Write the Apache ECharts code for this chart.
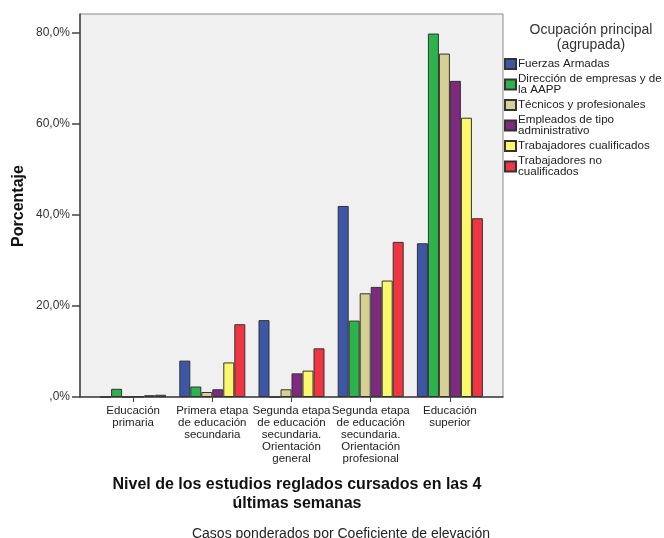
<!DOCTYPE html>
<html><head><meta charset="utf-8">
<script src="https://cdn.jsdelivr.net/npm/echarts@6/dist/echarts.min.js"></script>
<style>html,body{margin:0;padding:0;background:#fff}#c{width:664px;height:538px}</style>
</head><body><div id="c"></div>
<script>
const categories = ['Educación\nprimaria','Primera etapa\nde educación\nsecundaria','Segunda etapa\nde educación\nsecundaria.\nOrientación\ngeneral','Segunda etapa\nde educación\nsecundaria.\nOrientación\nprofesional','Educación\nsuperior'];
const seriesNames = ['Fuerzas Armadas','Dirección de empresas y de\nla AAPP','Técnicos y profesionales','Empleados de tipo\nadministrativo','Trabajadores cualificados','Trabajadores no\ncualificados'];
const fuerzasArmadas = [0, 8.0, 16.9, 42.0, 33.8];
const direccion = [1.8, 2.3, 0, 16.8, 79.9];
const tecnicos = [0, 1.1, 1.7, 22.8, 75.5];
const empleados = [0.1, 1.7, 5.2, 24.2, 69.5];
const cualificados = [0.4, 7.6, 5.8, 25.6, 61.4];
const noCualificados = [0.5, 16.0, 10.7, 34.1, 39.3];
const yTicks = [0, 20, 40, 60, 80];
const colors = ['#3d56a6','#2db34b','#d6d193','#7d2a7f','#fbf86c','#ee3541'];
const values = [fuerzasArmadas, direccion, tecnicos, empleados, cualificados, noCualificados];
const FONT = '"Liberation Sans", Arial, sans-serif';
const YMAX = 84.2;

const chart = echarts.init(document.getElementById('c'), null, {renderer:'canvas'});
chart.setOption({
  backgroundColor:'#ffffff',
  animation:false,
  textStyle:{fontFamily:FONT},
  title:[
    {text:'Ocupación principal\n(agrupada)', left:586, top:18, textAlign:'center',
     textStyle:{fontFamily:FONT, fontSize:14, fontWeight:'normal', color:'#333', lineHeight:15}},
    {text:'Nivel de los estudios reglados cursados en las 4\núltimas semanas', left:292, top:470, textAlign:'center',
     textStyle:{fontFamily:FONT, fontSize:16, fontWeight:'bold', color:'#111', lineHeight:19}},
    {text:'Casos ponderados por Coeficiente de elevación', left:336, top:522, textAlign:'center',
     textStyle:{fontFamily:FONT, fontSize:14, fontWeight:'normal', color:'#222'}}
  ],
  graphic:[{type:'text', x:19, y:206, rotation:Math.PI/2,
    style:{text:'Porcentaje', align:'center', verticalAlign:'middle', font:'bold 16px '+FONT, fill:'#111'}}],
  legend:{
    orient:'vertical', left:504, top:58, padding:0, itemGap:3,
    itemWidth:11, itemHeight:10, icon:'rect',
    textStyle:{fontFamily:FONT, fontSize:11.6, lineHeight:11, color:'#222', padding:[0,0,0,-3]},
    data:seriesNames
  },
  grid:[
    {left:80, right:161, top:14, bottom:141, show:true, backgroundColor:'#f0f0f0', borderColor:'#8a8a8a', borderWidth:1},
    {left:93.5, right:174.5, top:14, bottom:141}
  ],
  xAxis:[
    {gridIndex:0, type:'value', min:0, max:1, axisLine:{show:true, lineStyle:{color:'#444', width:1.5}},
     axisTick:{show:false}, axisLabel:{show:false}, splitLine:{show:false}},
    {gridIndex:1, type:'category', data:categories, axisLine:{show:false},
     axisTick:{show:true, alignWithLabel:true, length:5, lineStyle:{color:'#444'}},
     axisLabel:{interval:0, hideOverlap:false, fontFamily:FONT, fontSize:11.5, lineHeight:12, color:'#222', margin:8},
     splitLine:{show:false}}
  ],
  yAxis:[
    {gridIndex:0, type:'value', min:0, max:YMAX,
     axisLine:{show:true, lineStyle:{color:'#444', width:1.5}},
     axisTick:{show:true, length:8, inside:false, customValues:yTicks, lineStyle:{color:'#444', width:1.5}},
     axisLabel:{customValues:yTicks, fontFamily:FONT, fontSize:12, color:'#333', margin:10,
       formatter:v => (v===0 ? ',0' : v.toFixed(1).replace('.',',')) + '%'},
     splitLine:{show:false}},
    {gridIndex:1, type:'value', min:0, max:YMAX, show:false, splitLine:{show:false}}
  ],
  series: seriesNames.map((n,i)=>({
    name:n, type:'bar', xAxisIndex:1, yAxisIndex:1, data:values[i],
    barWidth:11, barGap:'0%',
    itemStyle:{color:colors[i], borderColor:'#333', borderWidth:1}
  }))
});
</script></body></html>
